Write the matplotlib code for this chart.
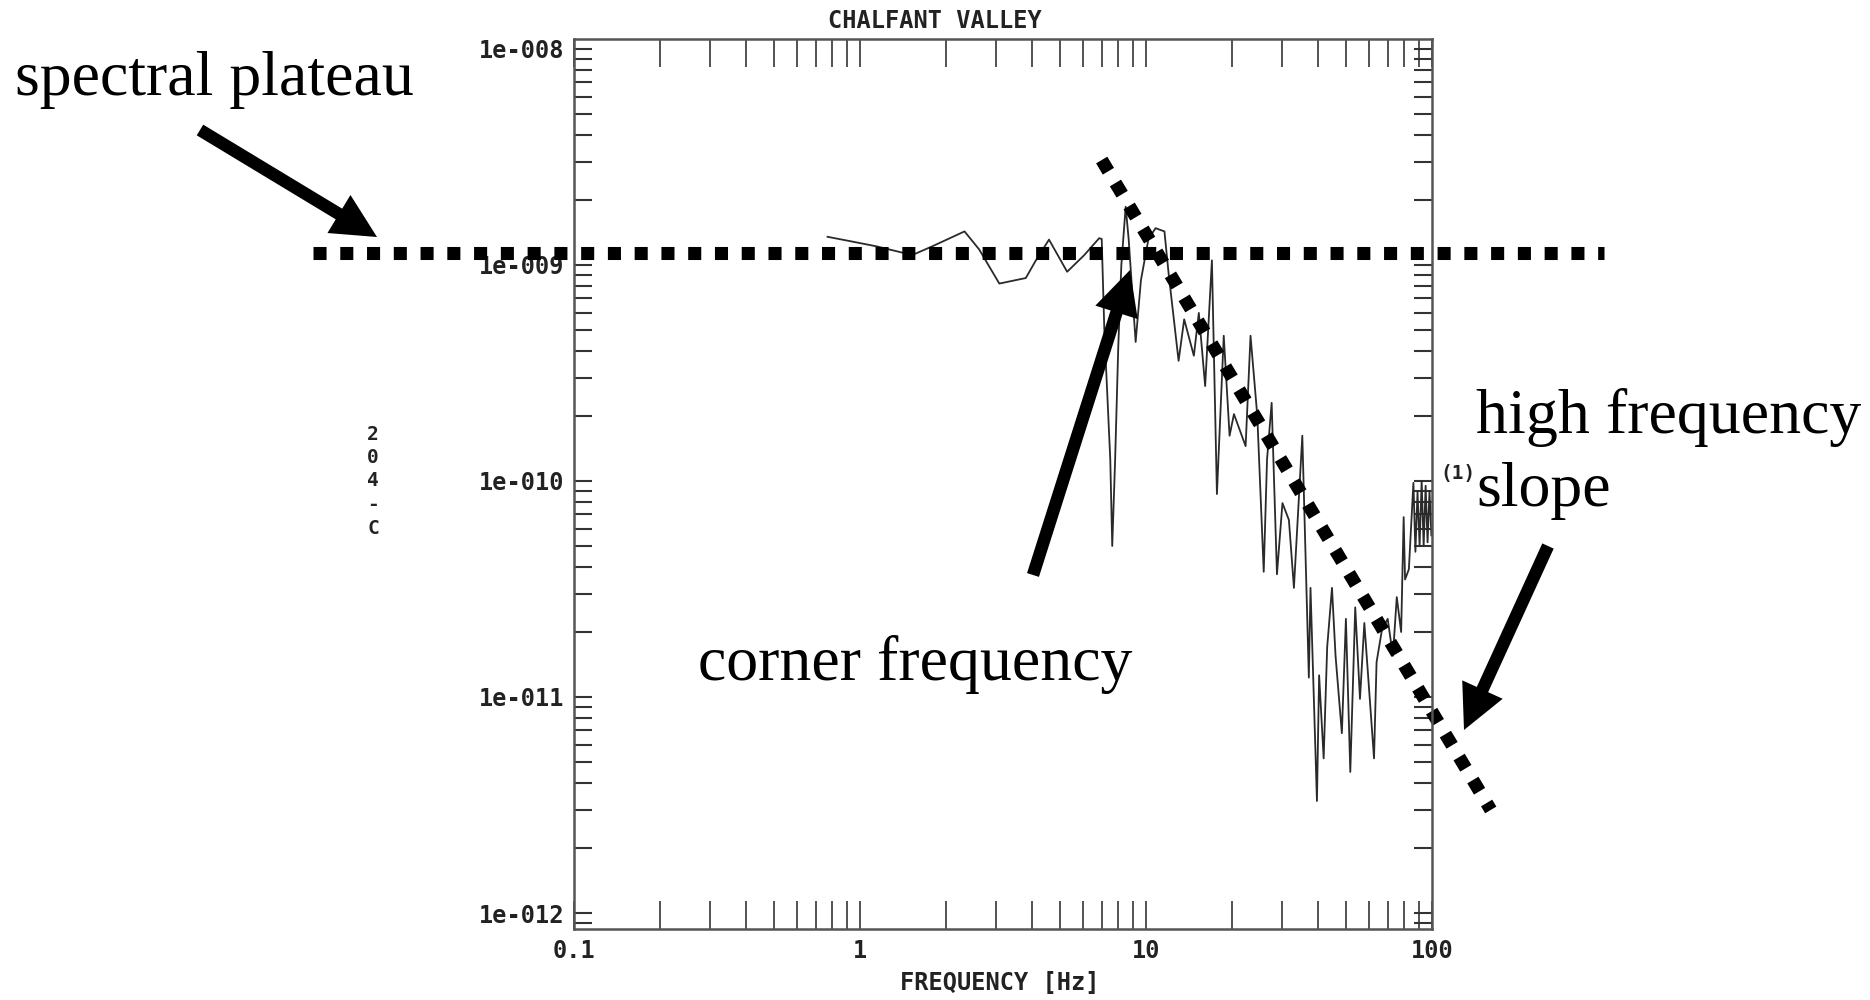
import numpy as np
import matplotlib.pyplot as plt
from matplotlib.ticker import FixedLocator, NullFormatter

# displacement spectrum, station 204-C
freq = [0.77, 0.92, 1.14, 1.37, 1.52, 1.79, 2.32, 2.61, 3.07, 3.80, 4.12, 4.58,
        5.30, 6.08, 6.86, 7.0, 7.15, 7.33, 7.5, 7.62, 7.8, 8.0, 8.2, 8.49, 8.7,
        9.2, 9.6, 10.2, 10.8, 11.6, 12.0, 13.0, 13.6, 14.7, 15.3, 16.1, 17.0,
        17.7, 18.7, 19.6, 20.3, 22.3, 23.2, 24.5, 25.8, 26.5, 27.5, 28.7, 30.0,
        31.6, 32.9, 35.2, 37.1, 37.6, 39.6, 40.3, 41.8, 43.0, 44.7, 46.0, 48.4,
        50.0, 51.8, 53.9, 56.0, 58.0, 62.7, 64.0, 66.8, 70.0, 73.0, 75.3, 78.0,
        79.6, 80.5, 83.0, 86.1, 87.5, 89.0, 90.5, 92.0, 93.5, 95.0, 96.5, 98.0,
        99.5]
amp = [1.35e-9, 1.29e-9, 1.22e-9, 1.15e-9, 1.11e-9, 1.22e-9, 1.43e-9, 1.18e-9,
       8.2e-10, 8.7e-10, 1.05e-9, 1.31e-9, 9.3e-10, 1.11e-9, 1.33e-9, 1.32e-9,
       5.0e-10, 2.45e-10, 1.26e-10, 5.0e-11, 1.26e-10, 4.2e-10, 1.0e-9, 1.86e-9,
       1.31e-9, 4.4e-10, 8.5e-10, 1.32e-9, 1.48e-9, 1.43e-9, 9.1e-10, 3.6e-10,
       5.6e-10, 3.8e-10, 6.0e-10, 2.75e-10, 1.05e-9, 8.7e-11, 4.7e-10, 1.62e-10,
       2.04e-10, 1.45e-10, 4.7e-10, 2.0e-10, 3.8e-11, 1.26e-10, 2.3e-10, 3.7e-11,
       7.9e-11, 6.6e-11, 3.2e-11, 1.62e-10, 1.23e-11, 3.2e-11, 3.3e-12, 1.26e-11,
       5.2e-12, 1.7e-11, 3.2e-11, 1.55e-11, 6.8e-12, 2.3e-11, 4.5e-12, 2.6e-11,
       9.8e-12, 2.2e-11, 5.2e-12, 1.45e-11, 2.04e-11, 2.3e-11, 1.55e-11, 2.9e-11,
       2.0e-11, 6.8e-11, 3.5e-11, 3.9e-11, 9.8e-11, 4.7e-11, 8.9e-11, 5.0e-11,
       1.0e-10, 5.0e-11, 9.5e-11, 5.2e-11, 9.0e-11, 5.6e-11]

plateau_level = 1.14e-9
slope_freq = [7.0, 160.5]
slope_amp = [3.06e-9, 3.0e-12]

xticks = [0.1, 1, 10, 100]
xticklabels = ['0.1', '1', '10', '100']
yticks = [1e-12, 1e-11, 1e-10, 1e-9, 1e-8]
yticklabels = ['1e-012', '1e-011', '1e-010', '1e-009', '1e-008']

mono = 'DejaVu Sans Mono'
serif = 'Liberation Serif'

fig = plt.figure(figsize=(18.7, 10), dpi=100)
ax = fig.add_axes([574 / 1870, 1 - 929 / 1000, 858 / 1870, 890 / 1000])

ax.plot(freq, amp, color='#2a2a2a', lw=1.3)

ax.set_xscale('log')
ax.set_yscale('log')
ax.set_xlim(0.1, 100)
ax.set_ylim(10 ** -12.074, 10 ** -7.954)

ax.xaxis.set_major_locator(FixedLocator(xticks))
ax.yaxis.set_major_locator(FixedLocator(yticks))
ax.set_xticklabels(xticklabels)
ax.set_yticklabels(yticklabels)
minors = [m * 10.0 ** e for e in range(-13, 3) for m in range(2, 10)]
ax.xaxis.set_minor_locator(FixedLocator(minors))
ax.yaxis.set_minor_locator(FixedLocator(minors))
ax.xaxis.set_minor_formatter(NullFormatter())
ax.yaxis.set_minor_formatter(NullFormatter())

ax.tick_params(axis='x', which='both', direction='in', length=20, width=1.3,
               color='#444444', top=True, pad=7)
ax.tick_params(axis='y', which='both', direction='in', length=13, width=1.5,
               color='#333333', right=True, pad=7)
for lab in ax.get_xticklabels() + ax.get_yticklabels():
    lab.set_fontfamily(mono)
    lab.set_fontweight('bold')
    lab.set_fontsize(17)
    lab.set_color('#222222')
for sp in ax.spines.values():
    sp.set_linewidth(1.8)
    sp.set_color('#555555')

fig.text(828 / 1870, 1 - 21 / 1000, 'CHALFANT VALLEY', family=mono,
         weight='bold', fontsize=17, color='#222222', ha='left', va='center')
fig.text(1000 / 1870, 1 - 983 / 1000, 'FREQUENCY [Hz]', family=mono,
         weight='bold', fontsize=17, color='#222222', ha='center', va='center')
fig.text(373 / 1870, 1 - 481 / 1000, '2\n0\n4\n-\nC', family=mono,
         weight='bold', fontsize=14, color='#222222', ha='center',
         va='center', linespacing=1.3)
fig.text(1440 / 1870, 1 - 474 / 1000, '(1)', family=mono, weight='bold',
         fontsize=14, color='#222222', ha='left', va='center')

# dotted guide lines: plateau level and high-frequency fall-off
dots = dict(color='black', lw=9.4, linestyle=(0, (1, 1.05)),
            dash_capstyle='butt', clip_on=False)
ax.plot([-0.304, 1.2], [plateau_level, plateau_level],
        transform=ax.get_yaxis_transform(), **dots)
ax.plot(slope_freq, slope_amp, **dots)

# labels with arrows
fig.text(15 / 1870, 1 - 95 / 1000, 'spectral plateau', family=serif,
         fontsize=46, ha='left', va='baseline')
fig.text(698 / 1870, 1 - 680 / 1000, 'corner frequency', family=serif,
         fontsize=46, ha='left', va='baseline')
fig.text(1476 / 1870, 1 - 433 / 1000, 'high frequency', family=serif,
         fontsize=46, ha='left', va='baseline')
fig.text(1476 / 1870, 1 - 506 / 1000, 'slope', family=serif,
         fontsize=46, ha='left', va='baseline')

arrow_style = dict(arrowstyle='simple,head_length=1.6,head_width=1.6,tail_width=0.45',
                   mutation_scale=20, fc='black', ec='black', lw=0,
                   shrinkA=0, shrinkB=0)
for tail, tip in [((200, 130), (377, 237)),
                  ((1033, 575), (1130, 270)),
                  ((1548, 546), (1464, 730))]:
    fig.add_artist(plt.matplotlib.text.Annotation(
        '', xy=(tip[0], 1000 - tip[1]), xytext=(tail[0], 1000 - tail[1]),
        xycoords='figure pixels', textcoords='figure pixels',
        arrowprops=arrow_style))

fig.savefig('out.png', dpi=100)
